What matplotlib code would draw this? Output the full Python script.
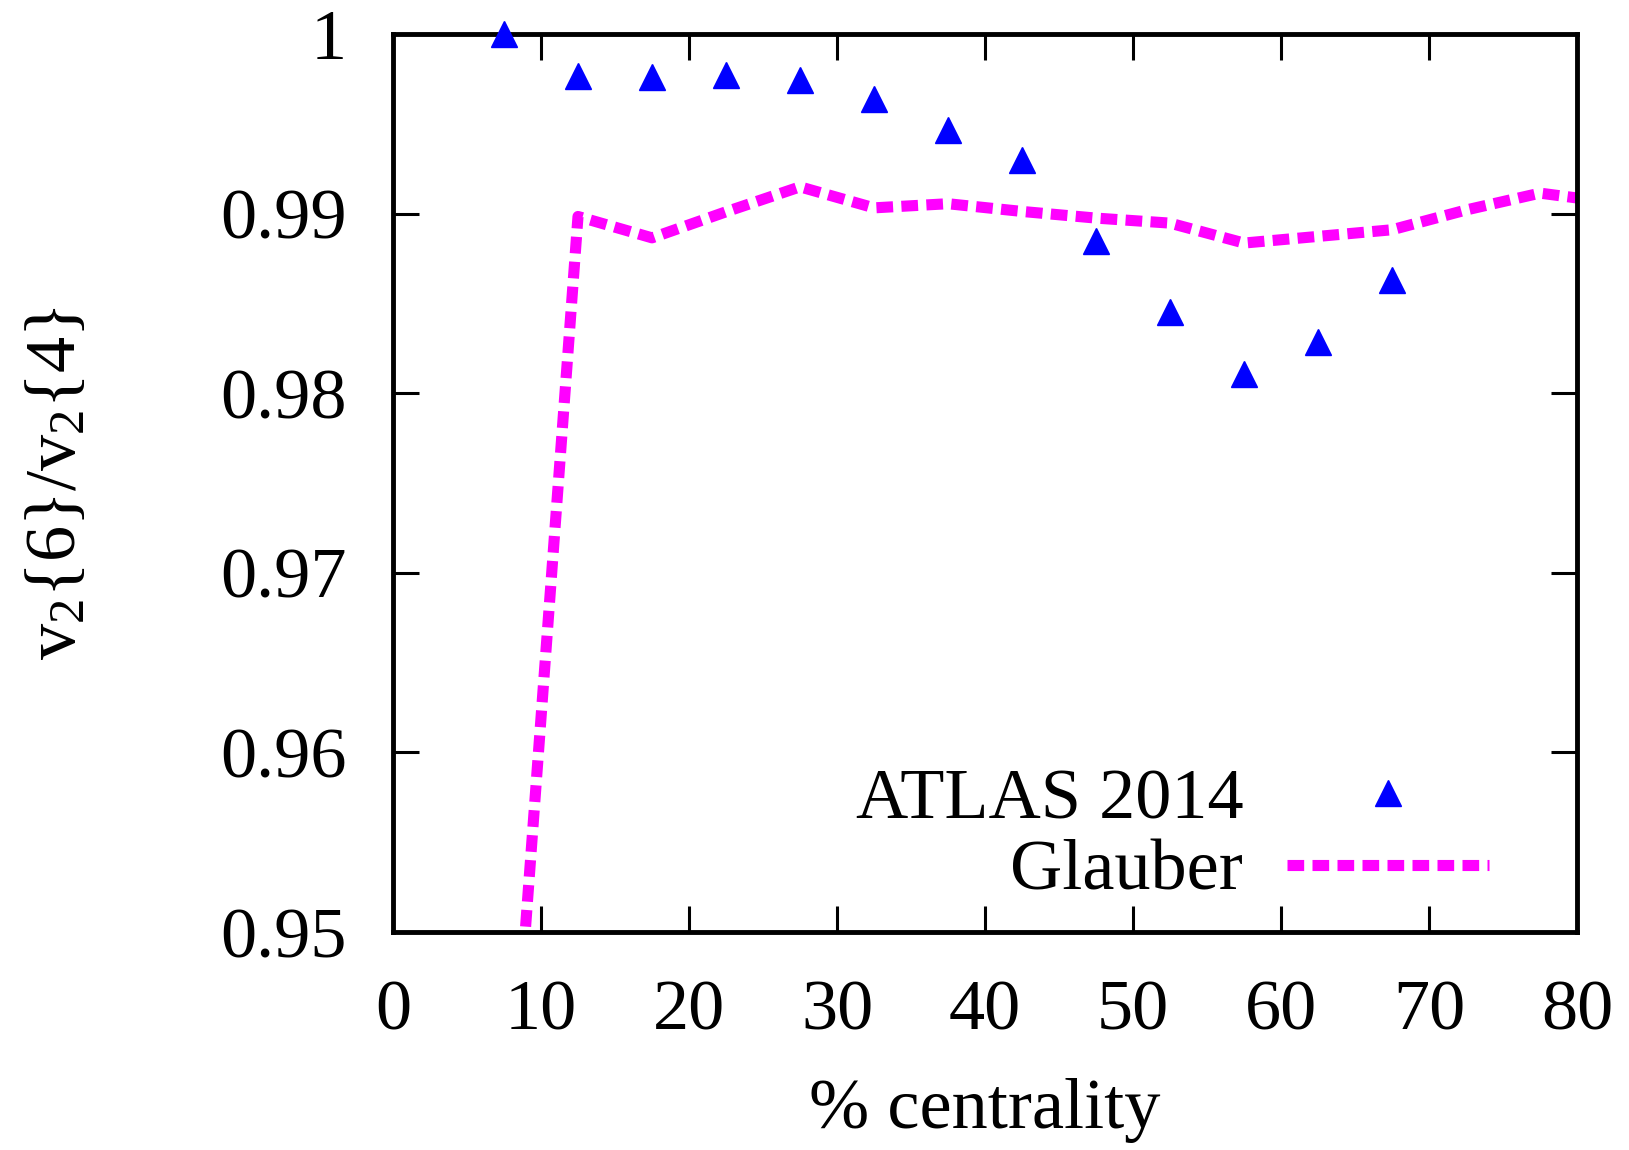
import numpy as np
import matplotlib
matplotlib.use("Agg")
from matplotlib import pyplot as plt

plt.rcParams['font.family'] = ['Liberation Serif', 'DejaVu Serif']
plt.rcParams['mathtext.fontset'] = 'custom'
plt.rcParams['mathtext.rm'] = 'Liberation Serif'
plt.rcParams['mathtext.it'] = 'Liberation Serif:italic'

# ATLAS 2014 data
atlas_x = [7.5, 12.5, 17.5, 22.5, 27.5, 32.5, 37.5, 42.5, 47.5, 52.5, 57.5, 62.5, 67.5]
atlas_y = [1.0000, 0.99764, 0.99759, 0.99771, 0.99742, 0.99638, 0.99465, 0.99300,
           0.98845, 0.98453, 0.98106, 0.98286, 0.98632]

# Glauber curve
glauber_x = [7.5, 12.5, 17.5, 22.5, 27.5, 32.5, 37.5, 42.5, 47.5, 52.5, 57.5, 62.5,
             67.5, 72.5, 77.5, 82.5]
glauber_y = [0.9340, 0.98984, 0.98865, 0.99010, 0.99149, 0.99032, 0.99055, 0.99012,
             0.98975, 0.98947, 0.98836, 0.98873, 0.98910, 0.99020, 0.99114, 0.99060]

xticks = [0, 10, 20, 30, 40, 50, 60, 70, 80]
yticks = [0.95, 0.96, 0.97, 0.98, 0.99, 1.0]
ytick_labels = ['0.95', '0.96', '0.97', '0.98', '0.99', '1']

FS = 52

fig = plt.figure(figsize=(16.29, 11.5), dpi=100)
ax = fig.add_axes([393 / 1629, 1 - 932 / 1150, (1577 - 393) / 1629, (932 - 34) / 1150])

ax.plot(atlas_x, atlas_y, linestyle='none', marker='^', color='#0000ff',
        markersize=19, clip_on=False, label='ATLAS 2014', zorder=3)
ax.plot(glauber_x, glauber_y, color='#ff00ff', linewidth=8, dashes=(1.5, 0.75),
        dash_capstyle='butt', label='Glauber', zorder=2)

ax.set_xlim(0, 80)
ax.set_ylim(0.95, 1.0)
ax.set_xticks(xticks)
ax.set_xticklabels([str(t) for t in xticks])
ax.set_yticks(yticks)
ax.set_yticklabels(ytick_labels)

for s in ax.spines.values():
    s.set_linewidth(3.5)
ax.tick_params(direction='in', length=19, width=2.2, top=True, right=True,
               labelsize=FS)
ax.tick_params(axis='x', pad=34)
ax.tick_params(axis='y', pad=33)

ax.set_xlabel('% centrality', fontsize=FS, labelpad=24)
ax.set_ylabel(r'v$_2${6}/v$_2${4}', fontsize=FS, labelpad=94)

leg = ax.legend(loc='lower right', markerfirst=False, frameon=False, fontsize=FS,
                handlelength=2.8, handletextpad=0.6, labelspacing=0.08,
                bbox_to_anchor=(0.95, -0.002), borderaxespad=0)
for t in leg.get_texts():
    t.set_horizontalalignment('right')

fig.savefig('out.png', dpi=100)
